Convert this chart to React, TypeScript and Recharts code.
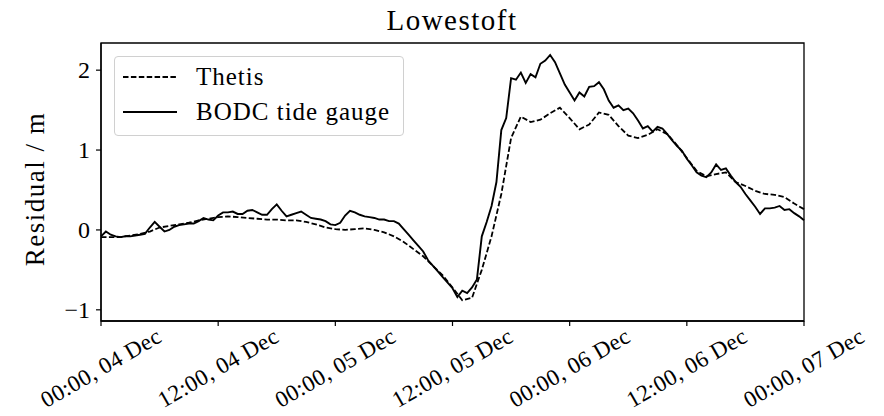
import { Line, LineChart, XAxis, YAxis, ReferenceArea } from "recharts";

const FONT = "'Liberation Serif', 'DejaVu Serif', serif";

// hourly model residual, hour 0 = 00:00 04 Dec
const thetisValues = [
  -0.09, -0.09, -0.09, -0.07, -0.05, -0.02, 0.03, 0.05, 0.07, 0.09,
  0.12, 0.14, 0.16, 0.17, 0.16, 0.15, 0.14, 0.13, 0.13, 0.12,
  0.12, 0.1, 0.07, 0.03, 0.01, 0.0, 0.01, 0.02, 0.0, -0.03,
  -0.08, -0.15, -0.24, -0.33, -0.45, -0.57, -0.72, -0.88, -0.85, -0.5,
  -0.08, 0.45, 1.15, 1.42, 1.35, 1.38, 1.46, 1.53, 1.4, 1.26,
  1.32, 1.47, 1.44, 1.3, 1.18, 1.15, 1.19, 1.26, 1.2, 1.06,
  0.9, 0.74, 0.67, 0.7, 0.72, 0.6, 0.55, 0.49, 0.45, 0.44,
  0.41, 0.33, 0.26,
];

// half-hourly gauge residual
const bodcValues = [
  -0.08, -0.02, -0.06, -0.08, -0.09, -0.08, -0.08, -0.07, -0.06, -0.05,
  0.03, 0.1, 0.04, -0.02, 0.0, 0.04, 0.06, 0.07, 0.08, 0.08,
  0.11, 0.15, 0.13, 0.12, 0.18, 0.22, 0.22, 0.23, 0.2, 0.2,
  0.24, 0.25, 0.22, 0.19, 0.19, 0.26, 0.32, 0.24, 0.17, 0.19,
  0.21, 0.23, 0.19, 0.15, 0.14, 0.13, 0.11, 0.07, 0.06, 0.09,
  0.18, 0.24, 0.22, 0.19, 0.17, 0.16, 0.15, 0.13, 0.13, 0.11,
  0.11, 0.08, 0.01, -0.06, -0.13, -0.2, -0.27, -0.38, -0.45, -0.52,
  -0.59, -0.66, -0.73, -0.84, -0.76, -0.79, -0.72, -0.62, -0.08, 0.1,
  0.3, 0.6, 1.25, 1.4, 1.9, 1.88, 1.97, 1.84, 1.95, 1.91,
  2.08, 2.12, 2.19, 2.1, 1.96, 1.82, 1.72, 1.62, 1.72, 1.67,
  1.79, 1.8, 1.85, 1.76, 1.62, 1.53, 1.56, 1.5, 1.52, 1.46,
  1.37, 1.27, 1.3, 1.23, 1.29, 1.27, 1.2, 1.12, 1.05, 0.99,
  0.89, 0.81, 0.72, 0.68, 0.66, 0.72, 0.82, 0.75, 0.77, 0.68,
  0.6, 0.54, 0.45, 0.37, 0.29, 0.2, 0.27, 0.27, 0.28, 0.3,
  0.25, 0.26, 0.21, 0.17, 0.12,
];

const xTicks = [0, 12, 24, 36, 48, 60, 72];
const xTickLabels = [
  "00:00, 04 Dec",
  "12:00, 04 Dec",
  "00:00, 05 Dec",
  "12:00, 05 Dec",
  "00:00, 06 Dec",
  "12:00, 06 Dec",
  "00:00, 07 Dec",
];
const yTicks = [-1, 0, 1, 2];

const thetisData = thetisValues.map((v, i) => ({ hour: i, value: v }));
const bodcData = bodcValues.map((v, i) => ({ hour: i * 0.5, value: v }));

const DASH = "5.5 2.4";

function XTick({ x, y, payload }: any) {
  const idx = xTicks.indexOf(payload.value);
  return (
    <text
      transform={`translate(${x},${y + 40}) rotate(-30)`}
      textAnchor="middle"
      dominantBaseline="central"
      fontFamily={FONT}
      fontSize={23}
      letterSpacing={0.4}
      fill="#000"
    >
      {xTickLabels[idx]}
    </text>
  );
}

function YTick({ x, y, payload }: any) {
  const v = payload.value as number;
  return (
    <text x={x} y={y} textAnchor="end" dominantBaseline="central" fontFamily={FONT} fontSize={24} fill="#000">
      {v < 0 ? "\u2212" + Math.abs(v) : String(v)}
    </text>
  );
}

function LegendBox() {
  const items = [
    { label: "Thetis", dash: DASH },
    { label: "BODC tide gauge", dash: undefined },
  ];
  return (
    <div
      style={{
        position: "absolute",
        left: 114,
        top: 56,
        width: 290,
        height: 80,
        border: "1px solid #d0d0d0",
        borderRadius: 4,
        background: "rgba(255,255,255,0.85)",
        boxSizing: "border-box",
      }}
    >
      {items.map((it, i) => (
        <div key={it.label} style={{ position: "absolute", left: 6, top: 4 + i * 35, height: 32, display: "flex", alignItems: "center" }}>
          <svg width={58} height={10}>
            <line x1={2} x2={56} y1={5} y2={5} stroke="#000" strokeWidth={1.8} strokeDasharray={it.dash} />
          </svg>
          <span style={{ fontFamily: FONT, fontSize: 25, letterSpacing: 1, marginLeft: 17, color: "#000", lineHeight: "32px" }}>
            {it.label}
          </span>
        </div>
      ))}
    </div>
  );
}

export default function App() {
  return (
    <div style={{ position: "absolute", left: 0, top: 0, width: 884, height: 416, background: "#fff" }}>
      <LineChart width={884} height={416} margin={{ top: 43, right: 80, bottom: 5, left: 61 }}>
        <XAxis
          dataKey="hour"
          type="number"
          domain={[0, 72]}
          ticks={xTicks}
          allowDuplicatedCategory={false}
          axisLine={{ stroke: "#000", strokeWidth: 1.3 }}
          tickLine={{ stroke: "#000", strokeWidth: 1.2 }}
          tickSize={5}
          tick={<XTick />}
          height={90}
        />
        <YAxis
          type="number"
          domain={[-1.14, 2.34]}
          ticks={yTicks}
          allowDataOverflow
          width={40}
          axisLine={{ stroke: "#000", strokeWidth: 1.3 }}
          tickLine={{ stroke: "#000", strokeWidth: 1.2 }}
          tickSize={5}
          tickMargin={6}
          tick={<YTick />}
        />
        <ReferenceArea x1={0} x2={72} y1={-1.14} y2={2.34} fill="none" stroke="#000" strokeWidth={1.3} />
        <Line
          data={thetisData}
          dataKey="value"
          name="Thetis"
          type="linear"
          stroke="#000"
          strokeWidth={1.8}
          strokeDasharray={DASH}
          dot={false}
          activeDot={false}
          isAnimationActive={false}
        />
        <Line
          data={bodcData}
          dataKey="value"
          name="BODC tide gauge"
          type="linear"
          stroke="#000"
          strokeWidth={1.9}
          dot={false}
          activeDot={false}
          isAnimationActive={false}
        />
      </LineChart>
      <LegendBox />
      <svg width={884} height={416} style={{ position: "absolute", left: 0, top: 0, pointerEvents: "none" }}>
        <text x={452} y={30} textAnchor="middle" fontFamily={FONT} fontSize={29} letterSpacing={1.5} fill="#000">
          Lowestoft
        </text>
        <text transform="translate(44,189) rotate(-90)" textAnchor="middle" fontFamily={FONT} fontSize={27} letterSpacing={1.5} fill="#000">
          Residual / m
        </text>
      </svg>
    </div>
  );
}
